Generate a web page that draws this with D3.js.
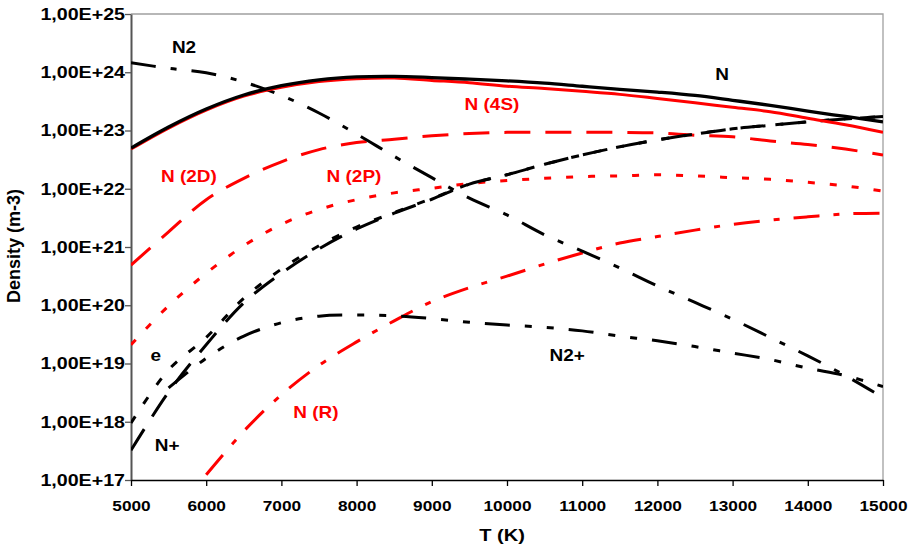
<!DOCTYPE html>
<html>
<head>
<meta charset="utf-8">
<script src="https://cdn.jsdelivr.net/npm/d3@7/dist/d3.min.js"></script>
<style>
  html, body { margin: 0; padding: 0; background: #fff; }
  svg { display: block; font-family: "Liberation Sans", Arial, sans-serif; font-weight: bold; }
</style>
</head>
<body>
<svg id="chart" width="915" height="552"></svg>
<script>
// Temperature grid (K)
const temperatures = [5000, 5500, 6000, 6500, 7000, 7500, 8000, 8500, 9000, 9500, 10000,
  10500, 11000, 11500, 12000, 12500, 13000, 13500, 14000, 14500, 15000];

// Species densities (m-3) at each temperature
const nTotal = [5.0e22, 1.15e23, 2.34e23, 4.07e23, 5.89e23, 7.41e23, 8.32e23, 8.5e23, 8.1e23, 7.6e23, 7.1e23,
  6.5e23, 5.75e23, 5.1e23, 4.57e23, 4.0e23, 3.3e23, 2.7e23, 2.15e23, 1.74e23, 1.41e23];
const n4S = [4.8e22, 1.1e23, 2.24e23, 3.89e23, 5.5e23, 6.92e23, 7.76e23, 7.95e23, 7.25e23, 6.6e23, 5.75e23,
  5.25e23, 4.7e23, 4.17e23, 3.55e23, 3.0e23, 2.5e23, 2.1e23, 1.62e23, 1.26e23, 9.3e22];
const n2D = [4.9e20, 1.82e21, 6.5e21, 1.51e22, 2.9e22, 4.7e22, 6.2e22, 7.1e22, 8.1e22, 8.9e22, 9.3e22,
  9.3e22, 9.3e22, 9.3e22, 9.1e22, 8.3e22, 7.8e22, 6.6e22, 5.75e22, 4.8e22, 3.8e22];
const n2P = [2.1e19, 9.8e19, 3.55e20, 1.05e21, 2.45e21, 4.4e21, 6.5e21, 8.5e21, 1.02e22, 1.23e22, 1.38e22,
  1.51e22, 1.62e22, 1.66e22, 1.74e22, 1.66e22, 1.55e22, 1.45e22, 1.29e22, 1.12e22, 9.1e21];
const nR = [null, null, 1.23e17, 6.9e17, 2.9e18, 9.3e18, 2.35e19, 5.4e19, 1.15e20, 2.0e20, 3.16e20,
  5.1e20, 7.9e20, 1.17e21, 1.51e21, 1.95e21, 2.45e21, 2.9e21, 3.3e21, 3.7e21, 3.8e21];
const nN2 = [1.45e24, 1.17e24, 9.8e23, 6.8e23, 4.0e23, 2.0e23, 8.7e22, 3.6e22, 1.55e22, 6.9e21, 3.55e21,
  1.62e21, 8.5e20, 4.37e20, 2.15e20, 1.12e20, 5.75e19, 2.8e19, 1.35e19, 6.2e18, 2.6e18];
const nN2plus = [null, 3.8e18, 1.23e19, 2.95e19, 5.0e19, 6.5e19, 6.8e19, 6.6e19, 5.9e19, 5.1e19, 4.57e19,
  4.17e19, 3.63e19, 2.95e19, 2.45e19, 1.95e19, 1.51e19, 1.17e19, 8.3e18, 6.2e18, 4.0e18];
const nNplus = [3.24e17, 3.24e18, 2.1e19, 1.1e20, 3.55e20, 9.3e20, 2.04e21, 3.8e21, 6.6e21, 1.2e22, 1.74e22,
  2.63e22, 3.8e22, 5.25e22, 6.9e22, 8.7e22, 1.07e23, 1.23e23, 1.41e23, 1.58e23, 1.74e23];
const nElectron = [9.5e17, 7.8e18, 2.8e19, 1.32e20, 4.17e20, 1.05e21, 2.2e21, 3.9e21, 6.8e21, 1.2e22, 1.74e22,
  2.63e22, 3.8e22, 5.25e22, 6.9e22, 8.7e22, 1.07e23, 1.23e23, 1.41e23, 1.58e23, 1.74e23];

// Axis ticks
const xTicks = [5000, 6000, 7000, 8000, 9000, 10000, 11000, 12000, 13000, 14000, 15000];
const yTicks = [1e17, 1e18, 1e19, 1e20, 1e21, 1e22, 1e23, 1e24, 1e25];

const RED = "#ff0000", BLACK = "#000000";

// Series styling
const series = [
  { name: "N (2D)", values: n2D, color: RED, width: 3, dash: "26,15" },
  { name: "N (2P)", values: n2P, color: RED, width: 3, dash: "7,15" },
  { name: "N (R)", values: nR, color: RED, width: 3, dash: "26,14,6,14" },
  { name: "N2+", values: nN2plus, color: BLACK, width: 3, dash: "25,15,7,15,7,15" },
  { name: "N2", values: nN2, color: BLACK, width: 3, dash: "25,15,6,15" },
  { name: "N+", values: nNplus, color: BLACK, width: 3, dash: "25,15" },
  { name: "e", values: nElectron, color: BLACK, width: 3, dash: "8,15" },
  { name: "N (4S)", values: n4S, color: RED, width: 3, dash: null },
  { name: "N", values: nTotal, color: BLACK, width: 3.3, dash: null }
];

// Series labels, anchored at the text baseline (data units)
const labels = [
  { text: "N2", t: 5705, v: 2.15e24, color: BLACK },
  { text: "N", t: 12860, v: 7.4e23, color: BLACK },
  { text: "N (4S)", t: 9800, v: 2.25e23, color: RED },
  { text: "N (2D)", t: 5770, v: 1.32e22, color: RED },
  { text: "N (2P)", t: 7965, v: 1.32e22, color: RED },
  { text: "e", t: 5330, v: 1.1e19, color: BLACK },
  { text: "N+", t: 5480, v: 3.16e17, color: BLACK },
  { text: "N2+", t: 10800, v: 1.1e19, color: BLACK },
  { text: "N (R)", t: 7460, v: 1.15e18, color: RED }
];

const svg = d3.select("#chart");
const plot = { left: 131, right: 883, top: 14, bottom: 480 };

const x = d3.scaleLinear().domain([5000, 15000]).range([plot.left, plot.right]);
const y = d3.scaleLog().domain([1e17, 1e25]).range([plot.bottom, plot.top]);

// Plot frame: light grey on top and right
svg.append("path")
  .attr("d", `M${plot.left},${plot.top}H${plot.right}V${plot.bottom}`)
  .attr("fill", "none").attr("stroke", "#a0a0a0").attr("stroke-width", 1.3);

svg.append("clipPath").attr("id", "plotClip")
  .append("rect")
  .attr("x", plot.left).attr("y", plot.top)
  .attr("width", plot.right - plot.left).attr("height", plot.bottom - plot.top);

// Axes
const sciFmt = v => "1,00E+" + Math.round(Math.log10(v));

const yAxis = svg.append("g")
  .attr("transform", `translate(${plot.left},0)`)
  .call(d3.axisLeft(y).tickValues(yTicks).tickFormat(sciFmt).tickSize(6).tickSizeOuter(0));
yAxis.select(".domain").attr("stroke", "#555").attr("stroke-width", 2);
yAxis.selectAll(".tick line").attr("stroke", "#555").attr("stroke-width", 1.3);
yAxis.selectAll(".tick text")
  .attr("x", null).attr("dy", null)
  .attr("font-size", 16.5).attr("font-family", null).attr("fill", "#000")
  .attr("dominant-baseline", "central")
  .attr("transform", "translate(-6,0) scale(1.19,1)");

const xAxis = svg.append("g")
  .attr("transform", `translate(0,${plot.bottom})`)
  .call(d3.axisBottom(x).tickValues(xTicks).tickFormat(d3.format("d")).tickSize(6).tickSizeOuter(0));
xAxis.select(".domain").attr("stroke", "#000").attr("stroke-width", 1.6);
xAxis.selectAll(".tick line").attr("stroke", "#000").attr("stroke-width", 1.3);
xAxis.selectAll(".tick text")
  .attr("y", null).attr("dy", null)
  .attr("font-size", 15).attr("font-family", null).attr("fill", "#000")
  .attr("transform", "translate(0,31) scale(1.15,1)");

// Axis titles
svg.append("text")
  .attr("transform", `translate(502,541) scale(1.18,1)`)
  .attr("text-anchor", "middle").attr("font-size", 17).text("T (K)");

svg.append("text")
  .attr("transform", "translate(20,246) rotate(-90)")
  .attr("text-anchor", "middle").attr("font-size", 18).text("Density (m-3)");

// Curves
const line = d3.line()
  .defined(d => d.v != null)
  .x(d => x(d.t))
  .y(d => y(d.v))
  .curve(d3.curveCatmullRom.alpha(0.5));

const curves = svg.append("g").attr("clip-path", "url(#plotClip)");
series.forEach(s => {
  const pts = temperatures.map((t, i) => ({ t, v: s.values[i] }));
  curves.append("path")
    .datum(pts)
    .attr("d", line)
    .attr("fill", "none")
    .attr("stroke", s.color)
    .attr("stroke-width", s.width)
    .attr("stroke-dasharray", s.dash)
    .attr("stroke-linejoin", "round");
});

// Series labels
svg.append("g").selectAll("text")
  .data(labels)
  .join("text")
  .attr("transform", d => `translate(${x(d.t)},${y(d.v)}) scale(1.15,1)`)
  .attr("text-anchor", "middle")
  .attr("font-size", 16.5)
  .attr("fill", d => d.color)
  .text(d => d.text);
</script>
</body>
</html>
